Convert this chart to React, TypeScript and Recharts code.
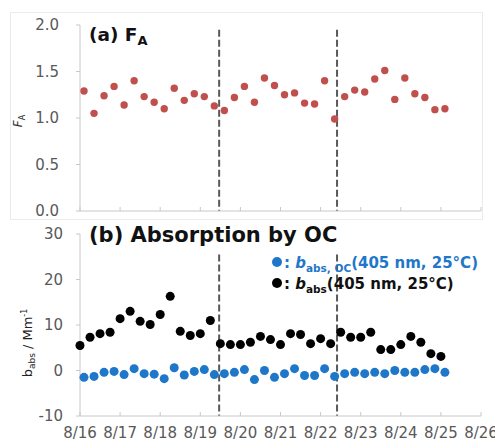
import React from "react";
import {
  ScatterChart,
  Scatter,
  XAxis,
  YAxis,
  ReferenceLine,
} from "recharts";

// days after 8/16 00:00, one sample every 6 h
const STEP = 0.25;
const FA_START = 0.1;
const BABS_START = 0.0;
const OC_START = 0.1;

const dayTicks = [0, 1, 2, 3, 4, 5, 6, 7, 8, 9, 10];
const faTicks = [0, 0.5, 1, 1.5, 2];
const absTicks = [-10, 0, 10, 20, 30];
const dividers = [3.47, 6.41];

const faValues = [
  1.29, 1.05, 1.24, 1.34, 1.14, 1.4, 1.23, 1.17, 1.1, 1.32, 1.19, 1.26, 1.23,
  1.13, 1.08, 1.22, 1.34, 1.17, 1.43, 1.35, 1.25, 1.27, 1.16, 1.15, 1.4, 0.99,
  1.23, 1.3, 1.28, 1.42, 1.51, 1.2, 1.43, 1.26, 1.22, 1.09, 1.1,
];

const babsValues = [
  5.5, 7.3, 8.1, 8.4, 11.4, 13.0, 10.8, 10.1, 12.3, 16.3, 8.6, 7.7, 8.1, 11.0,
  5.9, 5.7, 5.7, 6.2, 7.5, 6.8, 5.7, 8.1, 7.9, 5.9, 7.0, 5.9, 8.4, 7.3, 7.3,
  8.4, 4.6, 4.6, 5.7, 7.5, 6.2, 3.7, 3.1,
];

const ocValues = [
  -1.5, -1.3, -0.4, -0.2, -0.9, 0.4, -0.7, -0.8, -1.8, 0.6, -1.0, -0.2, 0.2,
  -0.9, -0.7, -0.4, 0.2, -2.0, 0.0, -1.5, -0.7, 0.4, -1.1, -1.1, 0.4, -1.3,
  -0.7, -0.4, -0.7, -0.4, -0.7, 0.0, -0.4, -0.4, 0.2, 0.4, -0.4,
];

const toPoints = (values: number[], start: number) =>
  values.map((v, i) => ({ x: start + i * STEP, y: v }));

const faData = toPoints(faValues, FA_START);
const babsData = toPoints(babsValues, BABS_START);
const ocData = toPoints(ocValues, OC_START);

const RED = "#c0504d";
const BLUE = "#1f77c9";
const AXIS = "#c8c8c8";
const TICK = "#595959";

const XTick = (props: any) => {
  const { x, y, payload, showLabel } = props;
  return (
    <g>
      <line x1={x} x2={x} y1={y} y2={y - 4} stroke={AXIS} />
      {showLabel && (
        <text x={x} y={y + 22} textAnchor="middle" fill={TICK} fontSize={15}>
          {`8/${16 + payload.value}`}
        </text>
      )}
    </g>
  );
};

const dot = (r: number, fill: string) => (p: any) =>
  <circle cx={p.cx} cy={p.cy} r={r} fill={fill} />;

const App = () => {
  return (
    <div
      style={{
        position: "absolute",
        left: 0,
        top: 0,
        width: 495,
        height: 445,
        background: "#fff",
        fontFamily: "'DejaVu Sans', sans-serif",
        overflow: "hidden",
      }}
    >
      <div style={{ position: "absolute", left: 0, top: 0 }}>
        <ScatterChart
          width={495}
          height={222}
          margin={{ top: 25, right: 14, left: 0, bottom: 0 }}
        >
          <XAxis
            type="number"
            dataKey="x"
            domain={[0, 10]}
            ticks={dayTicks}
            interval={0}
            height={11}
            tickSize={0}
            tickMargin={0}
            tickLine={false}
            tick={<XTick showLabel={false} />}
            axisLine={{ stroke: AXIS }}
          />
          <YAxis
            type="number"
            dataKey="y"
            domain={[0, 2]}
            ticks={faTicks}
            width={80}
            tickSize={4}
            tickMargin={17}
            tickLine={{ stroke: AXIS }}
            axisLine={{ stroke: AXIS }}
            tick={{ fill: TICK, fontSize: 15 }}
            tickFormatter={(v: number) => v.toFixed(1)}
          />
          {dividers.map((d) => (
            <ReferenceLine
              key={`a-${d}`}
              segment={[
                { x: d, y: 1.95 },
                { x: d, y: 0 },
              ]}
              stroke="#595959"
              strokeWidth={2}
              strokeDasharray="7 3"
            />
          ))}
          <Scatter
            data={faData}
            isAnimationActive={false}
            shape={dot(3.7, RED)}
          />
        </ScatterChart>
      </div>

      <div style={{ position: "absolute", left: 0, top: 222 }}>
        <ScatterChart
          width={495}
          height={223}
          margin={{ top: 12, right: 14, left: 0, bottom: 0 }}
        >
          <XAxis
            type="number"
            dataKey="x"
            domain={[0, 10]}
            ticks={dayTicks}
            interval={0}
            height={29}
            tickSize={0}
            tickMargin={0}
            tickLine={false}
            tick={<XTick showLabel={true} />}
            axisLine={{ stroke: AXIS }}
          />
          <YAxis
            type="number"
            dataKey="y"
            domain={[-10, 30]}
            ticks={absTicks}
            width={80}
            tickSize={4}
            tickMargin={13}
            tickLine={{ stroke: AXIS }}
            axisLine={{ stroke: AXIS }}
            tick={{ fill: TICK, fontSize: 15 }}
          />
          {dividers.map((d) => (
            <ReferenceLine
              key={`b-${d}`}
              segment={[
                { x: d, y: 25.5 },
                { x: d, y: -10 },
              ]}
              stroke="#595959"
              strokeWidth={2}
              strokeDasharray="7 3"
            />
          ))}
          <Scatter
            data={babsData}
            isAnimationActive={false}
            shape={dot(4.5, "#000")}
          />
          <Scatter
            data={ocData}
            isAnimationActive={false}
            shape={dot(4.5, BLUE)}
          />
        </ScatterChart>
      </div>

      {/* titles, axis names, legend */}
      <svg
        width={495}
        height={445}
        style={{ position: "absolute", left: 0, top: 0, pointerEvents: "none" }}
      >
        <rect x={10.5} y={12.5} width={472} height={207} fill="none" stroke="#ebebeb" />

        <text x={89} y={41} fontSize={18.5} fontWeight="bold" fill="#111">
          (a) F
          <tspan fontSize={13} dy={4}>A</tspan>
        </text>
        <text x={89} y={242} fontSize={21} fontWeight="bold" fill="#111">
          (b) Absorption by OC
        </text>

        <text
          transform="translate(22,121) rotate(-90)"
          textAnchor="middle"
          fontSize={12}
          fill="#333"
        >
          <tspan fontStyle="italic">F</tspan>
          <tspan fontSize={8} dy={3}>A</tspan>
        </text>
        <text
          transform="translate(32,343) rotate(-90)"
          textAnchor="middle"
          fontSize={13}
          fill="#222"
        >
          b<tspan fontSize={9} dy={3}>abs</tspan>
          <tspan dy={-3}> / Mm</tspan>
          <tspan fontSize={8} dy={-5}>-1</tspan>
        </text>

        <circle cx={277} cy={262} r={5} fill={BLUE} />
        <text x={284} y={268} fontSize={15} fontWeight="bold" fill={BLUE}>
          :{" "}
          <tspan fontStyle="italic">b</tspan>
          <tspan fontSize={10.5} dy={4}>abs, OC</tspan>
          <tspan dy={-4}>(405 nm, 25°C)</tspan>
        </text>
        <circle cx={277} cy={283} r={5} fill="#000" />
        <text x={284} y={289} fontSize={15} fontWeight="bold" fill="#111">
          :{" "}
          <tspan fontStyle="italic">b</tspan>
          <tspan fontSize={10.5} dy={4}>abs</tspan>
          <tspan dy={-4}>(405 nm, 25°C)</tspan>
        </text>
      </svg>
    </div>
  );
};

export default App;
